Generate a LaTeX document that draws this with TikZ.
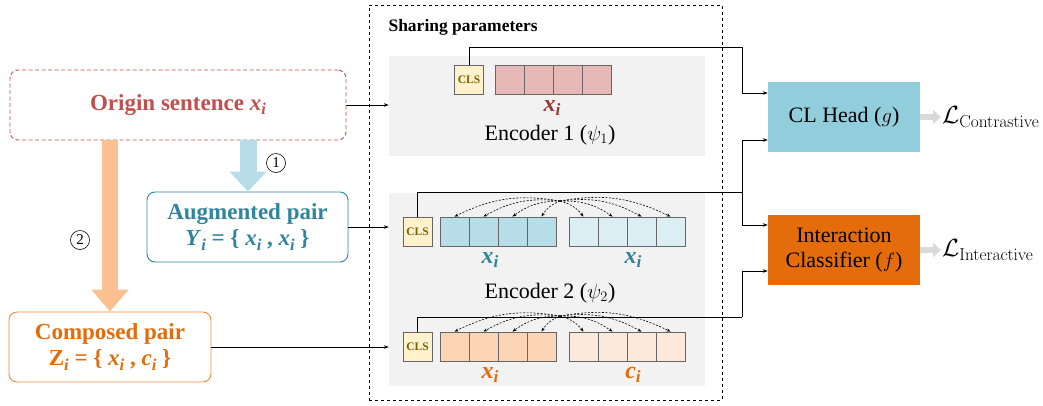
\documentclass[tikz,border=0pt]{standalone}
\usepackage[no-math]{fontspec}
\setmainfont{Liberation Serif}
\usetikzlibrary{arrows.meta}
\definecolor{origc}{HTML}{C0504D}
\definecolor{xred}{HTML}{953735}
\definecolor{tealc}{HTML}{31849B}
\definecolor{orgc}{HTML}{E36C09}
\definecolor{orgborder}{HTML}{F0883A}
\definecolor{pinkc}{HTML}{E6B8B7}
\definecolor{blue1}{HTML}{B7DDE8}
\definecolor{blue2}{HTML}{DAEEF3}
\definecolor{or1}{HTML}{FBD5B5}
\definecolor{or2}{HTML}{FDE9D9}
\definecolor{clsfill}{HTML}{FFF2CC}
\definecolor{clstext}{HTML}{7F6000}
\definecolor{encgray}{HTML}{F2F2F2}
\definecolor{clhead}{HTML}{92CDDC}
\definecolor{icbox}{HTML}{E46C0A}
\definecolor{barblue}{HTML}{B7DDE8}
\definecolor{barorg}{HTML}{FAC090}
\newcommand{\sbi}[1]{\textit{#1}\raisebox{-0.4ex}{\scalebox{0.72}{\textit{i}}}}
\begin{document}
\begin{tikzpicture}[x=1pt,y=-1pt,
  >={Stealth[length=5pt,width=3.5pt]},
  conn/.style={->,line width=0.8pt,black},
  dar/.style={->,dashed,dash pattern=on 2pt off 1.5pt,line width=0.6pt,black,>={Stealth[length=4pt,width=3pt]}},
  tok/.style={draw=black!60,line width=0.8pt,minimum width=29pt,minimum height=29pt,inner sep=0pt},
  cls/.style={tok,fill=clsfill,text=clstext,font=\fontsize{11.5}{12}\selectfont\bfseries},
  encbox/.style={fill=encgray,inner sep=0pt},
  lbox/.style={rounded corners=8pt,line width=0.9pt,align=center,inner sep=0pt,font=\fontsize{23}{26}\selectfont\bfseries},
  hbox/.style={minimum width=152pt,minimum height=70pt,align=center,inner sep=0pt,font=\fontsize{22}{25}\selectfont},
  lab/.style={font=\fontsize{24}{26}\selectfont\bfseries},
  circnum/.style={circle,draw,line width=0.6pt,inner sep=0pt,minimum size=19pt,font=\fontsize{15}{16}\selectfont},
  garrow/.style={-{Triangle[length=8pt,width=14pt]},line width=6pt,black!15},
  bar/.style={line width=17pt},
]
\useasboundingbox (0,0) rectangle (1043,405);

% shared frame
\node[draw,dashed,line width=0.8pt,minimum width=353pt,minimum height=395pt,inner sep=0pt] (share) at (545.5,202.5) {};
\node[anchor=west,font=\fontsize{17.5}{18}\selectfont\bfseries] (sharet) at (385,27) {Sharing parameters};

% encoder boxes
\node[encbox,minimum width=316pt,minimum height=100pt] (enc1) at (547,106) {};
\node[encbox,minimum width=316pt,minimum height=193pt] (enc2) at (547,289.5) {};

% encoder 1 tokens
\node[cls] (c1) at (469,80) {CLS};
\foreach \i in {1,...,4} \node[tok,fill=pinkc] (p\i) at ({480.5+29*\i},80) {};
\node[lab,text=xred] (x1) at (552,108) {\sbi{x}};
\node[font=\fontsize{22}{24}\selectfont] (e1t) at (550,135) {Encoder 1 ($\psi_1$)};

% encoder 2 row 1
\node[cls] (c2) at (417.5,231.5) {CLS};
\foreach \i in {1,...,4} {
  \node[tok,fill=blue1] (b\i) at ({425.5+29*\i},231.5) {};
  \node[tok,fill=blue2] (bb\i) at ({554.5+29*\i},231.5) {};
}
\node[lab,text=tealc] (x2) at (490,260) {\sbi{x}};
\node[lab,text=tealc] (x3) at (633,260) {\sbi{x}};
\node[font=\fontsize{22}{24}\selectfont] (e2t) at (550,293) {Encoder 2 ($\psi_2$)};

% encoder 2 row 2
\node[cls] (c3) at (417.5,346.5) {CLS};
\foreach \i in {1,...,4} {
  \node[tok,fill=or1] (o\i) at ({425.5+29*\i},346.5) {};
  \node[tok,fill=or2] (oo\i) at ({554.5+29*\i},346.5) {};
}
\node[lab,text=orgc] (x4) at (490,375) {\sbi{x}};
\node[lab,text=orgc] (x5) at (633,375) {\sbi{c}};

% attention arrows
\coordinate (s1) at (560,201);
\coordinate (s2) at (560,316);
\foreach \i in {1,...,4} {
  \draw[dar] (s1) to[bend right=18] (b\i.north);
  \draw[dar] (s1) to[bend left=18] (bb\i.north);
  \draw[dar] (s2) to[bend right=18] (o\i.north);
  \draw[dar] (s2) to[bend left=18] (oo\i.north);
}

% left boxes
\node[lbox,draw=origc,dashed,dash pattern=on 4pt off 2.5pt,minimum width=336pt,minimum height=70pt,text=origc] (origin) at (178,105) {Origin sentence \sbi{x}};
\node[lbox,draw=tealc,minimum width=201pt,minimum height=70pt,text=tealc] (aug) at (247.5,227) {Augmented pair\\[0pt]\sbi{Y} = \{ \sbi{x} , \sbi{x} \}};
\node[lbox,draw=orgborder,minimum width=202pt,minimum height=70pt,text=orgc] (comp) at (110,347) {Composed pair\\[0pt]Z\raisebox{-0.4ex}{\scalebox{0.72}{\textit{i}}} = \{ \sbi{x} , \sbi{c} \}};

% thick arrows
\draw[bar,barblue,-{Triangle[length=20pt,width=36pt]}] (origin.south -| 248,0) -- (aug.north -| 248,0);
\draw[bar,barorg,line width=16pt,-{Triangle[length=22pt,width=36pt]}] (origin.south -| 110,0) -- (comp.north -| 110,0);
\node[circnum] (n1) at (276,163) {1};
\node[circnum] (n2) at (80,240) {2};

% heads
\node[hbox,fill=clhead] (clh) at (844,117) {CL Head ($g$)};
\node[hbox,fill=icbox] (ic) at (844,250) {Interaction\\Classifier ($f$)};
\node[anchor=west,font=\fontsize{23.5}{25}\selectfont,inner sep=1pt] (lc) at (941,117) {$\mathcal{L}_{\mathrm{Contrastive}}$};
\node[anchor=west,font=\fontsize{23.5}{25}\selectfont,inner sep=1pt] (li) at (941,250) {$\mathcal{L}_{\mathrm{Interactive}}$};
\draw[garrow] (clh.east) -- (lc.west);
\draw[garrow] (ic.east) -- (li.west);

% connectors inputs
\draw[conn] (origin.east) -- (origin.east -| enc1.west);
\draw[conn] (aug.east) -- (aug.east -| enc2.west);
\draw[conn] (comp.east) -- (comp.east -| enc2.west);

% CLS outputs
\coordinate (j1) at (742,47);
\coordinate (j2) at (742,192);
\coordinate (j3) at (742,317);
\draw[conn,-] (c1.north) |- (j1);
\draw[conn] (j1) |- ([yshift=24pt]clh.west);
\draw[conn,-] (c2.north) |- (j2);
\draw[conn] (j2) |- ([yshift=-23pt]clh.west);
\draw[conn] (j2) |- ([yshift=25pt]ic.west);
\draw[conn,-] (c3.north) |- (j3);
\draw[conn] (j3) |- ([yshift=-21pt]ic.west);
\end{tikzpicture}
\end{document}
